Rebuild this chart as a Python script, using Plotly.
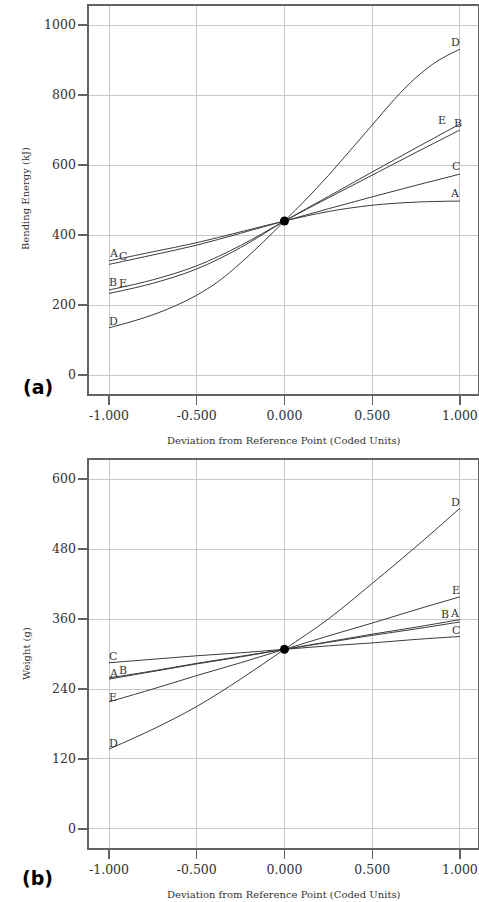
import plotly.graph_objects as go

# ---------------- data ----------------
x_coded = [-1.0, -0.75, -0.5, -0.25, 0.0, 0.25, 0.5, 0.75, 1.0]
x_coded_fine = [-1.0, -0.875, -0.75, -0.625, -0.5, -0.375, -0.25, -0.125, 0.0,
                0.125, 0.25, 0.375, 0.5, 0.625, 0.75, 0.875, 1.0]
series_names = ["A", "B", "C", "D", "E"]

energy_A = [326, 352, 378, 409, 440, 467, 485, 494, 497]
energy_B = [243, 272, 312, 370, 440, 506, 571, 636, 700]
energy_C = [316, 343, 371, 405, 440, 475, 509, 542, 574]
energy_D = [135, 152, 172, 197, 228, 268, 320, 378, 440,
            503, 570, 642, 714, 787, 850, 898, 931]   # on x_coded_fine
energy_E = [233, 262, 303, 364, 440, 510, 580, 649, 717]

weight_A = [257, 270, 283, 295, 308, 321, 334, 346, 359]
weight_B = [259, 271, 284, 296, 308, 320, 332, 343, 355]
weight_C = [285, 291, 297, 302, 308, 314, 319, 325, 330]
weight_D = [137, 171, 210, 257, 308, 360, 421, 484, 550]
weight_E = [218, 240, 263, 285, 308, 331, 353, 376, 398]

ref_x = [0.0]
ref_energy = [440]
ref_weight = [308]

x_ticks = [-1.0, -0.5, 0.0, 0.5, 1.0]
x_tick_text = ["-1.000", "-0.500", "0.000", "0.500", "1.000"]
energy_ticks = [0, 200, 400, 600, 800, 1000]
weight_ticks = [0, 120, 240, 360, 480, 600]

energy = dict(A=energy_A, B=energy_B, C=energy_C, D=energy_D, E=energy_E)
energy_x = dict(A=x_coded, B=x_coded, C=x_coded, D=x_coded_fine, E=x_coded)
weight = dict(A=weight_A, B=weight_B, C=weight_C, D=weight_D, E=weight_E)

# ---------------- styling ----------------
W, H = 479, 902
LINE_COL = "#3c3c3c"
GRID_COL = "#c8c8c8"
AXIS_COL = "#636363"
TXT_COL = "#333333"
SERIF = "DejaVu Serif"


def px(xp):
    return xp / W


def py(yp):
    return 1 - yp / H


fig = go.Figure()

for name in series_names:
    fig.add_trace(go.Scatter(x=energy_x[name], y=energy[name], mode="lines",
                             line=dict(color=LINE_COL, width=1, shape="spline", smoothing=1.0),
                             xaxis="x", yaxis="y", showlegend=False, hoverinfo="skip"))
fig.add_trace(go.Scatter(x=ref_x, y=ref_energy, mode="markers", marker=dict(color="black", size=9),
                         xaxis="x", yaxis="y", showlegend=False))
for name in series_names:
    fig.add_trace(go.Scatter(x=x_coded, y=weight[name], mode="lines",
                             line=dict(color=LINE_COL, width=1, shape="spline", smoothing=1.0),
                             xaxis="x2", yaxis="y2", showlegend=False, hoverinfo="skip"))
fig.add_trace(go.Scatter(x=ref_x, y=ref_weight, mode="markers", marker=dict(color="black", size=9),
                         xaxis="x2", yaxis="y2", showlegend=False))

xdom = [px(89), px(478)]
top_dom = [py(394), py(6)]
bot_dom = [py(848), py(460)]

tickfont = dict(family=SERIF, size=12.5, color=TXT_COL)


def xaxis_cfg(anchor):
    return dict(domain=xdom, range=[-1.114, 1.103], tickvals=x_ticks, ticktext=x_tick_text,
                showgrid=True, gridcolor=GRID_COL, gridwidth=1, zeroline=False,
                showline=True, linecolor=AXIS_COL, linewidth=1.6, mirror=True,
                ticks="outside", ticklen=9, tickcolor=AXIS_COL, tickwidth=1.3,
                tickfont=tickfont, anchor=anchor, fixedrange=True)


def yaxis_cfg(anchor, dom, rng, ticks):
    return dict(domain=dom, range=rng, tickvals=ticks, ticktext=[str(t) for t in ticks],
                showgrid=True, gridcolor=GRID_COL, gridwidth=1, zeroline=False,
                showline=True, linecolor=AXIS_COL, linewidth=1.6, mirror=True,
                ticks="outside", ticklen=9, tickcolor=AXIS_COL, tickwidth=1.3,
                tickfont=tickfont, anchor=anchor, fixedrange=True)


fig.update_layout(
    width=W, height=H,
    margin=dict(l=0, r=0, t=0, b=0, pad=0),
    paper_bgcolor="white", plot_bgcolor="white",
    xaxis=xaxis_cfg("y"),
    yaxis=yaxis_cfg("x", top_dom, [-54.3, 1054.3], energy_ticks),
    xaxis2=xaxis_cfg("y2"),
    yaxis2=yaxis_cfg("x2", bot_dom, [-32.6, 632.6], weight_ticks),
)

ann = []
lab_font = dict(family=SERIF, size=11, color=TXT_COL)


def lab(text, x, y, xref, yref, xanchor, xshift=0, yshift=0):
    ann.append(dict(text=text, x=x, y=y, xref=xref, yref=yref, xanchor=xanchor, yanchor="bottom",
                    xshift=xshift, yshift=yshift, showarrow=False, font=lab_font, borderpad=0))


# top panel labels (right ends)
right_dx_top = dict(A=1, B=3, C=1, D=1, E=-13)
right_dy_top = dict(A=0, B=-1, C=0, D=-1, E=-4)
for name in series_names:
    lab(name, energy_x[name][-1], energy[name][-1], "x", "y", "right",
        xshift=right_dx_top[name], yshift=right_dy_top[name])
# top panel labels (left ends)
left_dx_top = dict(A=-1, B=-1, C=9, D=-1, E=9)
left_dy_top = dict(A=0, B=0, C=0, D=-1, E=2)
for name in series_names:
    lab(name, energy_x[name][0], energy[name][0], "x", "y", "left",
        xshift=left_dx_top[name], yshift=left_dy_top[name])

# bottom panel labels (right ends)
right_dx_bot = dict(A=1, B=-10, C=1, D=1, E=1)
right_dy_bot = dict(A=-1, B=0, C=-1, D=-2, E=-1)
for name in series_names:
    lab(name, x_coded[-1], weight[name][-1], "x2", "y2", "right",
        xshift=right_dx_bot[name], yshift=right_dy_bot[name])
# bottom panel labels (left ends)
left_dx_bot = dict(A=-1, B=9, C=-1, D=-1, E=-1)
left_dy_bot = dict(A=-2, B=0, C=-1, D=-2, E=-3)
for name in series_names:
    lab(name, x_coded[0], weight[name][0], "x2", "y2", "left",
        xshift=left_dx_bot[name], yshift=left_dy_bot[name])

title_font = dict(family=SERIF, size=10, color=TXT_COL)
x_title = "Deviation from Reference Point (Coded Units)"
ann.append(dict(text=x_title, x=px(284), y=py(440), xref="paper", yref="paper",
                xanchor="center", yanchor="middle", showarrow=False, font=title_font))
ann.append(dict(text=x_title, x=px(284), y=py(894), xref="paper", yref="paper",
                xanchor="center", yanchor="middle", showarrow=False, font=title_font))
ann.append(dict(text="Bending Energy (kJ)", x=px(26), y=py(199), xref="paper", yref="paper",
                xanchor="center", yanchor="middle", textangle=-90, showarrow=False, font=title_font))
ann.append(dict(text="Weight (g)", x=px(26), y=py(654), xref="paper", yref="paper",
                xanchor="center", yanchor="middle", textangle=-90, showarrow=False, font=title_font))

panel_font = dict(family="DejaVu Sans", size=19, color="black")
ann.append(dict(text="<b>(a)</b>", x=px(37.5), y=py(387), xref="paper", yref="paper",
                xanchor="center", yanchor="middle", showarrow=False, font=panel_font))
ann.append(dict(text="<b>(b)</b>", x=px(37.5), y=py(878), xref="paper", yref="paper",
                xanchor="center", yanchor="middle", showarrow=False, font=panel_font))

fig.update_layout(annotations=ann)
fig.write_html(
    "out.html",
    config={"displayModeBar": False, "staticPlot": True},
    post_script="document.body.style.margin='0';document.body.style.padding='0';"
                "document.body.style.overflow='hidden';",
)
